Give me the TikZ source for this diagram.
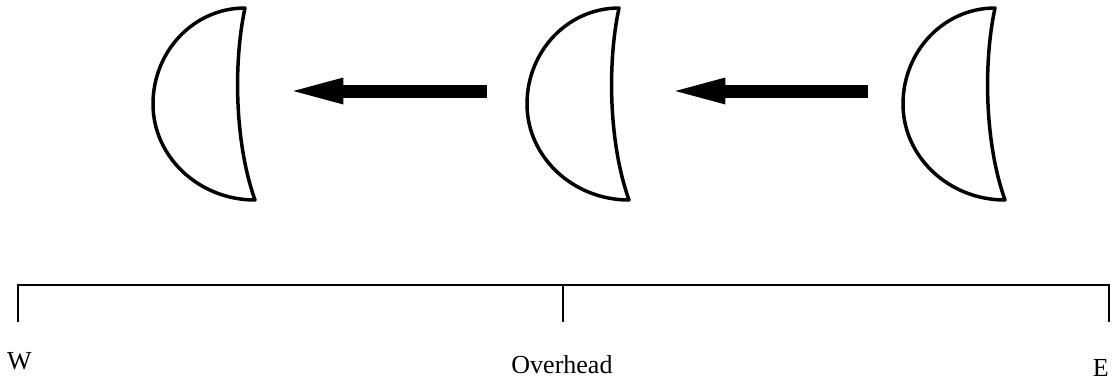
\documentclass[tikz,border=0pt]{standalone}
\usepackage{fontspec}
\setmainfont{Liberation Serif}
\usetikzlibrary{arrows.meta, positioning}

\begin{document}
\begin{tikzpicture}[
    x=1pt, y=-1pt,
    moonbox/.style  = {rectangle, draw=none, inner sep=0pt, minimum width=102pt, minimum height=192pt},
    moonline/.style = {line width=3.5pt, line join=round},
    bigarrow/.style = {line width=13pt, -{Triangle[length=50pt, width=27pt, line width=0pt]}},
    bracket/.style  = {line width=2pt},
    dirlabel/.style = {inner sep=0pt, font=\fontsize{26}{30}\selectfont}
]
\useasboundingbox (0,0) rectangle (1112,381);

% --- Mond ---
\foreach \n/\x in {m1/153, m2/527, m3/903} {
    \node[moonbox, anchor=west] (\n) at (\x,104) {};
    \begin{scope}[shift={(\n.west)}]
        \draw[moonline] (92,-96) .. controls (41,-96) and (0,-53) .. (0,0)
            .. controls (0,53) and (46,96) .. (102,96)
            .. controls (82,40) and (80,-40) .. (92,-96) -- cycle;
    \end{scope}
}

% --- Pfeile ---
\draw[bigarrow, shorten <=40pt, shorten >=38pt] ([yshift=13pt]m2.west) -- ([yshift=13pt]m1.east);
\draw[bigarrow, shorten <=35pt, shorten >=46pt] ([yshift=13pt]m3.west) -- ([yshift=13pt]m2.east);

% --- Skala ---
\coordinate (wtick) at (18,322);
\coordinate (etick) at (1109,322);
\coordinate (otick) at (563,322);
\coordinate (otop)  at (563,285);
\draw[bracket] (wtick) |- (etick |- otop) -- (etick);
\draw[bracket] (otop) -- (otick);

\node[dirlabel, anchor=base west] (west) at (7,369) {W};
\node[dirlabel, anchor=base east] (east) at (1109,376) {E};
\node[dirlabel, anchor=base] (overhead) at (562,373) {Overhead};

\end{tikzpicture}
\end{document}
